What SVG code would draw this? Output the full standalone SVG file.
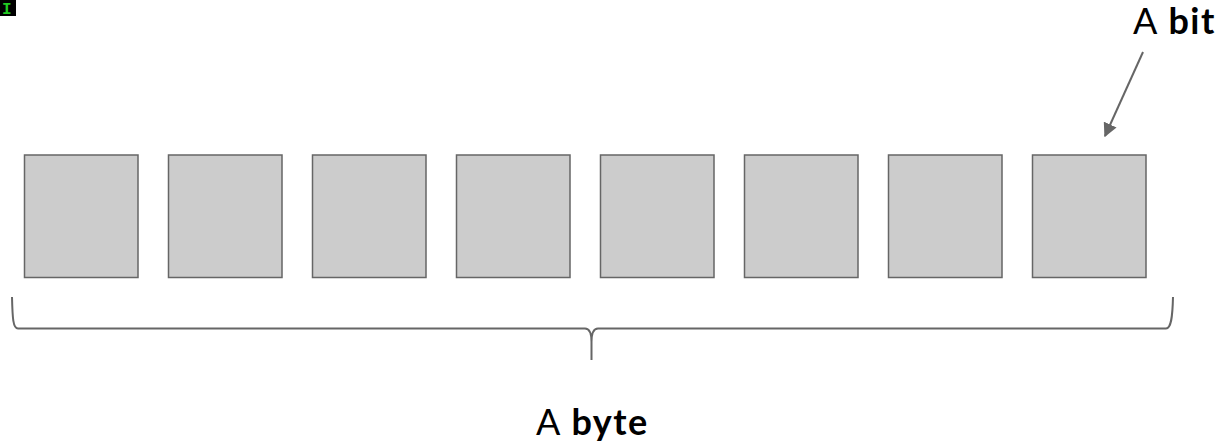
<svg xmlns="http://www.w3.org/2000/svg" width="1221" height="445" viewBox="0 0 1221 445">
<style>
.bit{fill:#cccccc;stroke:#666666;stroke-width:1.5}
.lbl{font-family:Lato,"Noto Sans",sans-serif;font-size:36px;fill:#000;letter-spacing:1.5px}
.b{font-weight:bold}
.conn{fill:none;stroke:#666666;stroke-width:2}
</style>
<defs>
<marker id="ah" viewBox="0 0 10 10" refX="9" refY="5" markerWidth="7" markerHeight="7" orient="auto" markerUnits="strokeWidth">
<path d="M0,0 L10,5 L0,10 z" fill="#666666"/>
</marker>
</defs>
<rect x="0" y="0" width="16" height="16" fill="#000"/>
<text x="2" y="14" font-family="'Liberation Mono',monospace" font-weight="bold" font-size="16" fill="#22cc22">I</text>
<g id="bit1"><rect class="bit" x="24.5" y="155" width="113.5" height="122.5"/></g>
<g id="bit2"><rect class="bit" x="168.5" y="155" width="113.5" height="122.5"/></g>
<g id="bit3"><rect class="bit" x="312.5" y="155" width="113.5" height="122.5"/></g>
<g id="bit4"><rect class="bit" x="456.5" y="155" width="113.5" height="122.5"/></g>
<g id="bit5"><rect class="bit" x="600.5" y="155" width="113.5" height="122.5"/></g>
<g id="bit6"><rect class="bit" x="744.5" y="155" width="113.5" height="122.5"/></g>
<g id="bit7"><rect class="bit" x="888.5" y="155" width="113.5" height="122.5"/></g>
<g id="bit8"><rect class="bit" x="1032.5" y="155" width="113.5" height="122.5"/></g>
<g id="label-bit"><text class="lbl" x="1133" y="34">A <tspan class="b">bit</tspan></text></g>
<g id="label-byte"><text class="lbl" x="536" y="435">A <tspan class="b">byte</tspan></text></g>
<g id="connectors">
<path class="conn" d="M1143,52 L1105,136" marker-end="url(#ah)"/>
<path class="conn" d="M12,297 C12.5,318 13,328.5 18,328.5 L585,328.5 C590,328.5 591.5,334 591.5,342 L591.5,360 M591.5,342 C591.5,334 593,328.5 598,328.5 L1166,328.5 C1171,328.5 1172.5,318 1173,297"/>
</g>
</svg>
